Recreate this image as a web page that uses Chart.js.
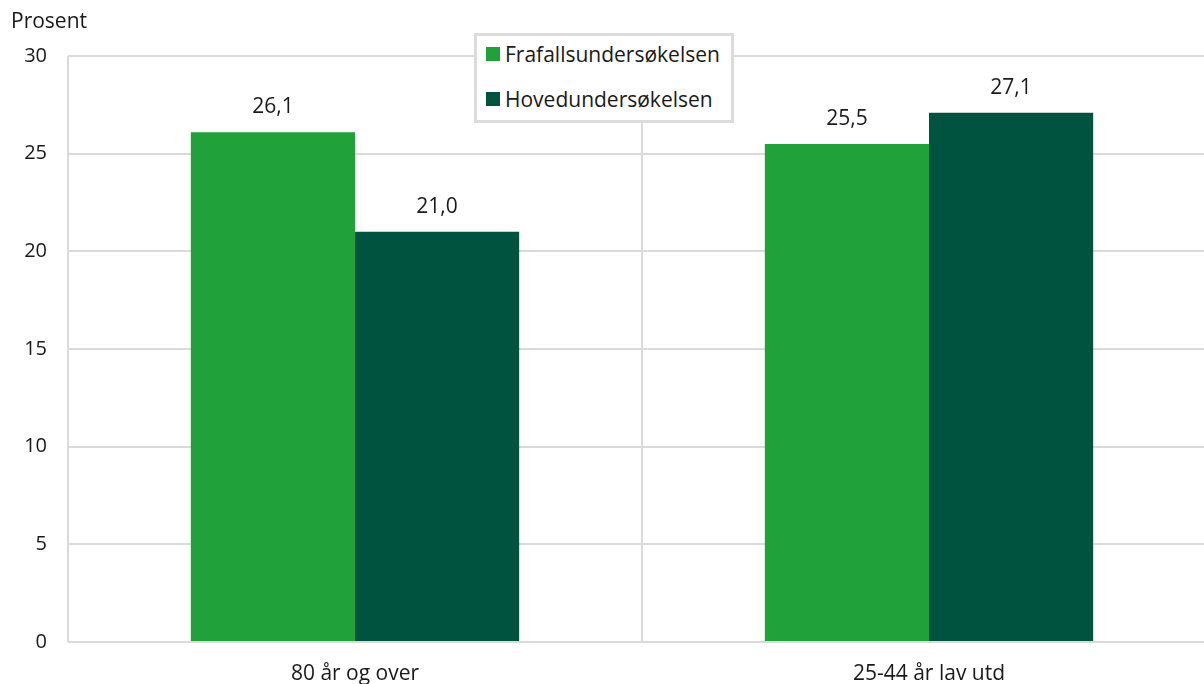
<!DOCTYPE html>
<html>
<head>
<meta charset="utf-8">
<script src="https://cdn.jsdelivr.net/npm/chart.js@4.4.0/dist/chart.umd.min.js"></script>
<style>
  html,body{ margin:0; padding:0; background:#fff; overflow:hidden; }
  #wrap{ position:relative; width:1204px; height:684px; overflow:hidden; font-family:'Open Sans', sans-serif; color:#1a1a1a; }
  #box{ position:absolute; left:0; top:0; width:1216px; height:700px; }
  #ytitle{ position:absolute; left:11px; top:6px; font-size:21px; }
  #legend{ position:absolute; left:474px; top:33px; width:254px; height:84px; border:3px solid #dcdcdc; background:#fff; font-size:21px; }
  #legend .item{ position:absolute; left:9px; display:flex; align-items:center; }
  #legend .sw{ width:14px; height:14px; margin-right:5px; }
</style>
</head>
<body>
<div id="wrap">
  <div id="box"><canvas id="chart"></canvas></div>
  <div id="ytitle">Prosent</div>
  <div id="legend"></div>
</div>
<script>
const categories = ['80 år og over', '25-44 år lav utd'];
const seriesNames = ['Frafallsundersøkelsen', 'Hovedundersøkelsen'];
const frafall = [26.1, 25.5];
const hoved = [21.0, 27.1];
const COLORS = ['#21a139', '#00543f'];
const GRID = '#dadada';
const FONT = "'Open Sans', sans-serif";

// legend (html, stacked vertically with a border)
const leg = document.getElementById('legend');
seriesNames.forEach((name, i) => {
  const d = document.createElement('div');
  d.className = 'item';
  d.style.top = (i === 0 ? 4 : 49) + 'px';
  d.innerHTML = `<span class="sw" style="background:${COLORS[i]}"></span><span>${name}</span>`;
  leg.appendChild(d);
});

const valueLabels = {
  id:'valueLabels',
  afterDatasetsDraw(chart){
    const ctx = chart.ctx;
    ctx.save();
    ctx.font = "21px " + FONT;
    ctx.fillStyle = '#1a1a1a';
    ctx.textAlign = 'center';
    ctx.textBaseline = 'alphabetic';
    chart.data.datasets.forEach((ds, di) => {
      chart.getDatasetMeta(di).data.forEach((bar, i) => {
        ctx.fillText(ds.data[i].toFixed(1).replace('.', ','), bar.x, bar.y - 19);
      });
    });
    ctx.restore();
  }
};

new Chart(document.getElementById('chart'), {
  type:'bar',
  data:{
    labels: categories,
    datasets:[
      { label: seriesNames[0], data: frafall, backgroundColor: COLORS[0], borderWidth:0 },
      { label: seriesNames[1], data: hoved, backgroundColor: COLORS[1], borderWidth:0 }
    ]
  },
  options:{
    responsive:true, maintainAspectRatio:false, animation:false,
    layout:{ padding:{ top:56, right:0, left:0, bottom:0 } },
    datasets:{ bar:{ barPercentage:1, categoryPercentage:0.572 } },
    plugins:{ legend:{ display:false }, tooltip:{ enabled:false } },
    scales:{
      x:{
        offset:true,
        grid:{ offset:true, color:GRID, lineWidth:2, drawTicks:false },
        border:{ display:false },
        ticks:{ color:'#1a1a1a', font:{ family:FONT, size:21 }, padding:19, maxRotation:0 },
        afterFit: s => { s.height = 58; }
      },
      y:{
        min:0, max:30,
        grid:{ color:GRID, lineWidth:2, drawTicks:false },
        border:{ display:false },
        ticks:{ stepSize:5, color:'#1a1a1a', font:{ family:FONT, size:20 }, padding:21 },
        afterFit: s => { s.width = 68; }
      }
    }
  },
  plugins:[valueLabels]
});
</script>
</body>
</html>
